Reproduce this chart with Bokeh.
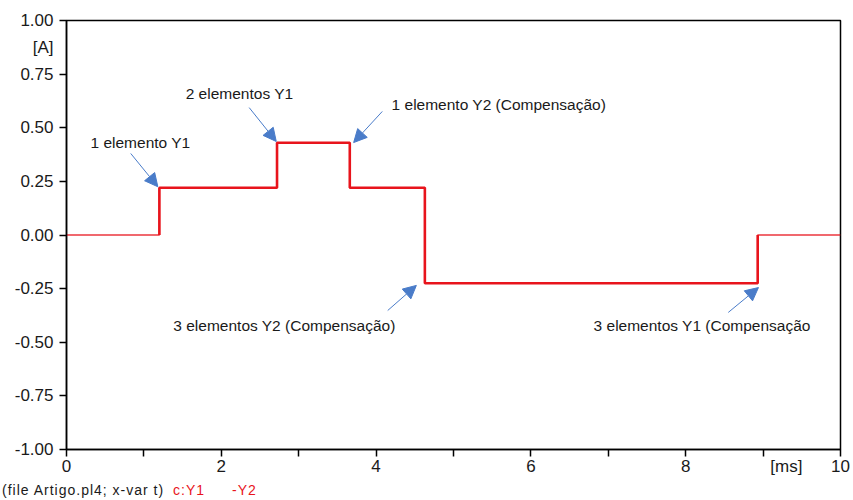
from bokeh.plotting import figure
from bokeh.models import FixedTicker, Label, Arrow, NormalHead, Range1d, Div
from bokeh.layouts import column
from bokeh.embed import file_html
from bokeh.resources import INLINE

# ---- data ----
time_ms = [0.0, 1.2, 2.72, 3.66, 4.63, 8.93, 10.0]
current_a = [0.0, 0.22, 0.43, 0.22, -0.225, 0.0, 0.0]

x_ticks = [0, 2, 4, 6, 8, 10]
x_tick_marks = [0, 1, 2, 3, 4, 5, 6, 7, 8, 9, 10]
y_ticks = [1.0, 0.75, 0.5, 0.25, 0.0, -0.25, -0.5, -0.75, -1.0]
x_unit, x_unit_pos = "[ms]", 9.3
y_unit, y_unit_pos = "[A]", 0.875

ann_texts = ["1 elemento Y1", "2 elementos Y1", "1 elemento Y2 (Compensação)",
             "3 elementos Y2 (Compensação)", "3 elementos Y1 (Compensação"]
ann_text_x = [0.31, 1.54, 4.20, 1.38, 6.81]
ann_text_y = [0.43, 0.66, 0.608, -0.422, -0.422]
arrow_x0 = [0.83, 2.36, 4.08, 4.15, 8.55]
arrow_y0 = [0.38, 0.594, 0.576, -0.352, -0.361]
arrow_x1 = [1.18, 2.71, 3.71, 4.52, 8.94]
arrow_y1 = [0.225, 0.436, 0.431, -0.235, -0.245]

footer_black = "(file Artigo.pl4; x-var t)"
footer_red = ["c:Y1", "-Y2"]

FONT = "Liberation Sans"
RED = "#e8141c"
BLUE = "#4a7cc9"
TXT = "#1a1a1a"

p = figure(width=853, height=483, output_backend="svg", toolbar_location=None,
           x_range=Range1d(0, 10), y_range=Range1d(-1, 1),
           min_border_left=66, min_border_right=13, min_border_top=20, min_border_bottom=34)
p.grid.visible = False
p.outline_line_color = "black"
p.outline_line_width = 1.5
p.outline_line_alpha = 1.0

# x axis: labels on major ticks (no marks), marks drawn as minor ticks
xa = p.xaxis[0]
xa.ticker = FixedTicker(ticks=x_ticks + [x_unit_pos], minor_ticks=x_tick_marks)
xa.major_label_overrides = {x_unit_pos: x_unit}
xa.axis_line_width = 1.5
xa.major_tick_out = 0
xa.major_tick_in = 0
xa.minor_tick_out = 7
xa.minor_tick_in = 0
xa.minor_tick_line_width = 1.5
xa.major_label_text_font = FONT
xa.major_label_text_font_size = "17px"
xa.major_label_text_color = TXT
xa.major_label_standoff = 0

ya = p.yaxis[0]
ya.ticker = FixedTicker(ticks=y_ticks + [y_unit_pos], minor_ticks=y_ticks)
ya.major_label_overrides = {t: f"{t:.2f}" for t in y_ticks}
ya.major_label_overrides[y_unit_pos] = y_unit
ya.axis_line_width = 1.5
ya.major_tick_out = 0
ya.major_tick_in = 0
ya.minor_tick_out = 7
ya.minor_tick_in = 0
ya.minor_tick_line_width = 1.5
ya.major_label_text_font = FONT
ya.major_label_text_font_size = "17px"
ya.major_label_text_color = TXT
ya.major_label_standoff = 6

# build step vertices from data
sx, sy = [time_ms[0]], [current_a[0]]
for i in range(1, len(time_ms)):
    sx += [time_ms[i], time_ms[i]]
    sy += [current_a[i - 1], current_a[i]]
p.line(sx, sy, line_color=RED, line_width=1.4, line_alpha=0.85)
nz = [i for i in range(len(sx)) if sy[i] != 0]
i0, i1 = nz[0] - 1, nz[-1] + 1
p.line(sx[i0:i1 + 1], sy[i0:i1 + 1], line_color=RED, line_width=2.6)

for t, tx, ty in zip(ann_texts, ann_text_x, ann_text_y):
    p.add_layout(Label(x=tx, y=ty, text=t, text_font=FONT, text_font_size="15.5px",
                       text_color=TXT, text_baseline="middle", text_align="left"))
for a, b, c, d in zip(arrow_x0, arrow_y0, arrow_x1, arrow_y1):
    p.add_layout(Arrow(x_start=a, y_start=b, x_end=c, y_end=d, line_color=BLUE, line_width=1,
                       end=NormalHead(size=13, fill_color=BLUE, line_color=BLUE, line_width=1)))

footer = Div(text=(f'<span style="display:inline-block;width:171px;color:{TXT}">{footer_black}</span>'
                   f'<span style="display:inline-block;width:59px;color:{RED}">{footer_red[0]}</span>'
                   f'<span style="display:inline-block;color:{RED}">{footer_red[1]}</span>'),
             width=600, height=17, margin=(0, 0, 0, 2),
             styles={"font-family": FONT, "font-size": "14px", "line-height": "14px",
                     "letter-spacing": "1px", "white-space": "nowrap"})

layout = column(p, footer, spacing=0)
open("out.html", "w").write(file_html(layout, INLINE))
